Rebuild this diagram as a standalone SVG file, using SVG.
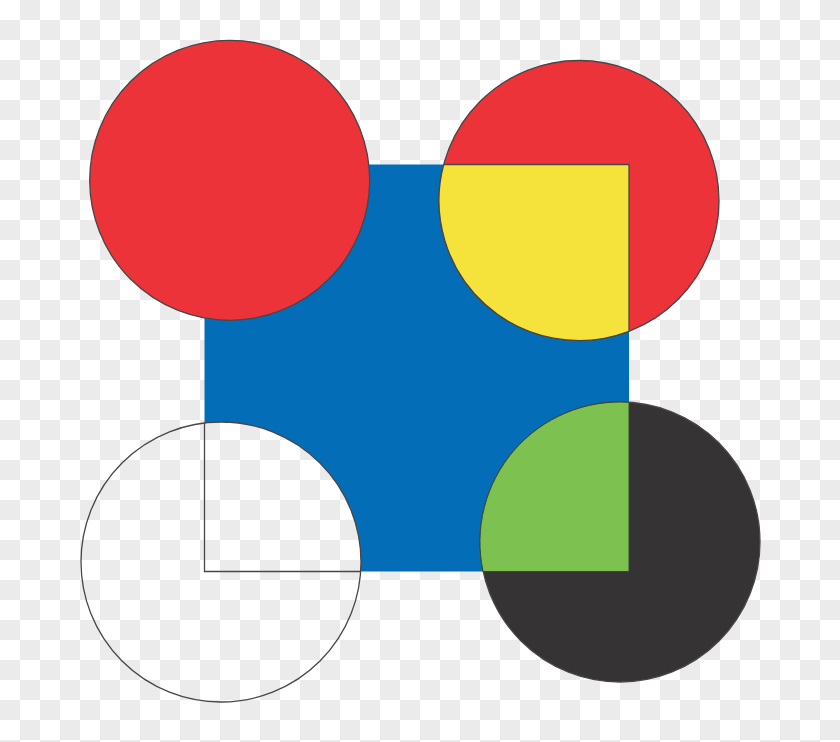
<svg xmlns="http://www.w3.org/2000/svg" width="840" height="742" viewBox="0 0 840 742">
  <defs>
    <pattern id="checker" x="0" y="0" width="40" height="40" patternUnits="userSpaceOnUse">
      <rect x="0" y="0" width="40" height="40" fill="#ffffff"/>
      <rect x="20" y="0" width="20" height="20" fill="#ebebeb"/>
      <rect x="0" y="20" width="20" height="20" fill="#ebebeb"/>
    </pattern>
  </defs>
  <style>
    .ol { stroke: #4a4546; stroke-width: 1.3; }
  </style>
  <rect id="background" x="0" y="0" width="840" height="742" fill="url(#checker)"/>
  <g id="square">
    <rect x="204.5" y="164.5" width="424.5" height="407" fill="#036eb7"/>
  </g>
  <g id="circle-top-left">
    <circle cx="229.7" cy="180.3" r="140" fill="#ec333a" class="ol"/>
  </g>
  <g id="circle-top-right">
    <circle cx="579" cy="200.5" r="140" fill="#ec333a" class="ol"/>
    <path d="M443.7,164.5 L629,164.5 L629,331.3 A140,140 0 0 1 443.7,164.5 Z" fill="#f5e33b" class="ol"/>
  </g>
  <g id="circle-bottom-left">
    <circle cx="221" cy="562" r="140" fill="url(#checker)" class="ol"/>
    <path d="M204.5,423 L204.5,571.5 L360.7,571.5" fill="none" class="ol"/>
  </g>
  <g id="circle-bottom-right">
    <circle cx="620" cy="542" r="140" fill="#353334" class="ol"/>
    <path d="M629,402.3 L629,571.5 L483.1,571.5 A140,140 0 0 1 629,402.3 Z" fill="#7dc250" stroke="#3a4a30" stroke-width="1"/>
  </g>
  <g id="connectors"/>
</svg>
